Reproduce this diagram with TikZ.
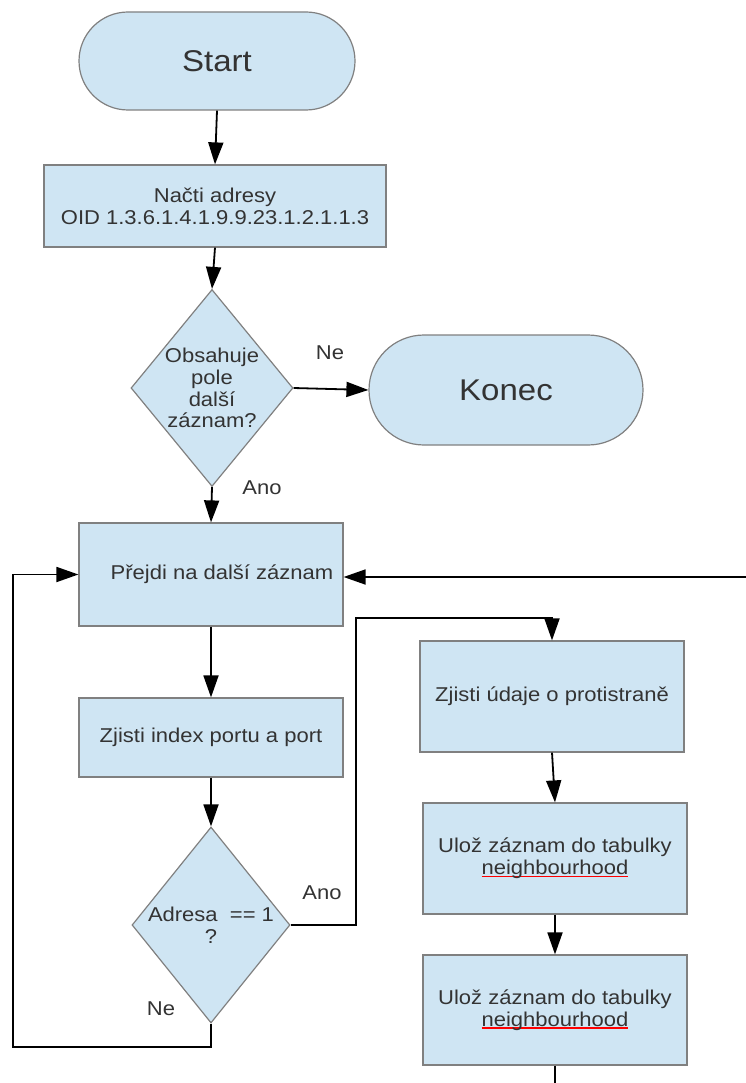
\documentclass[tikz,border=0pt]{standalone}
\usepackage{fontspec}
\setmainfont{Liberation Sans}[FakeStretch=1.1]
\usetikzlibrary{shapes.geometric,shapes.misc,arrows.meta}
\definecolor{boxfill}{HTML}{CFE5F3}
\definecolor{boxline}{HTML}{808080}
\definecolor{ink}{HTML}{333333}
% word flagged by the spell checker: red rule under it
\newcommand\spellmark[1]{\setbox0\hbox{#1}\rlap{\color{red}\rule[-2.4pt]{\wd0}{1.3pt}}\box0}
\begin{document}
\begin{tikzpicture}[x=1pt,y=-1pt,
  every node/.style={font=\fontsize{20}{21.7}\selectfont},
  base/.style={draw=boxline, fill=boxfill, line width=1.2pt, text=ink, inner sep=0pt},
  terminal/.style={base, rounded rectangle, font=\fontsize{30}{34}\selectfont},
  process/.style={base, rectangle, align=center},
  decision/.style={base, diamond},
  txt/.style={text=ink, inner sep=0pt, align=center},
  wire/.style={line width=1.8pt, black},
  arr/.style={wire, -{Triangle[length=22pt,width=15pt]}}]

\useasboundingbox (0,0) rectangle (746,1083);

% ---- main column ----
\node[terminal, minimum width=276pt, minimum height=98pt] (start) at (217,61) {Start};
\node[process, minimum width=342pt, minimum height=82pt] (load) at (215,206)
  {Načti adresy\\OID 1.3.6.1.4.1.9.9.23.1.2.1.1.3};
\node[decision, minimum width=162pt, minimum height=197pt] (more) at (212,388) {};
\node[txt] (moretext) at (more.center) {Obsahuje\\pole\\další\\záznam?};
\node[terminal, minimum width=274pt, minimum height=110pt] (end) at (506,390) {Konec};
\node[process, minimum width=264pt, minimum height=103pt] (next) at (211,574.5)
  {\hspace*{22pt}Přejdi na další záznam};
\node[process, minimum width=264pt, minimum height=79pt] (port) at (211,737.5)
  {Zjisti index portu a port};
\node[decision, minimum width=158pt, minimum height=196pt] (addr) at (211,925) {};
\node[txt] (addrtext) at (addr.center) {Adresa\ \ == 1\\?};

% ---- right column ----
\node[process, minimum width=264pt, minimum height=111pt] (peer) at (552,696.5)
  {Zjisti údaje o protistraně};
\node[process, minimum width=264pt, minimum height=111pt] (save1) at (555,858.5)
  {Ulož záznam do tabulky\\\spellmark{neighbourhood}};
\node[process, minimum width=264pt, minimum height=110pt] (save2) at (555,1010)
  {Ulož záznam do tabulky\\\spellmark{neighbourhood}};

% ---- branch labels ----
\node[txt] (ne1) at (330,353) {Ne};
\node[txt] (ano1) at (262,488) {Ano};
\node[txt] (ano2) at (322,893) {Ano};
\node[txt] (ne2) at (161,1009) {Ne};

% ---- route points ----
\coordinate (yesup) at (356,618);
\coordinate (loopcorner) at (13,1047);
\coordinate (fromright) at (746,577);
\coordinate (downout) at (555,1083);

% ---- connectors ----
\draw[arr] (start.south) -- (load.north);
\draw[arr] (load.south) -- (more.north);
\draw[arr] (more.east) -- (end.west);
\draw[arr] (more.south) -- (next.north);
\draw[arr] (next.south) -- (port.north);
\draw[arr] (port.south) -- (addr.north);
\draw[arr] (addr.east) -| (yesup) -| (peer.north);
\draw[arr] (peer.south) -- (save1.north);
\draw[arr] (save1.south) -- (save2.north);
\draw[wire] (save2.south) -- (downout);
\draw[arr] (addr.south) |- (loopcorner) |- (next.west);
\draw[arr] (fromright) -- (next.east |- fromright);
\end{tikzpicture}
\end{document}
